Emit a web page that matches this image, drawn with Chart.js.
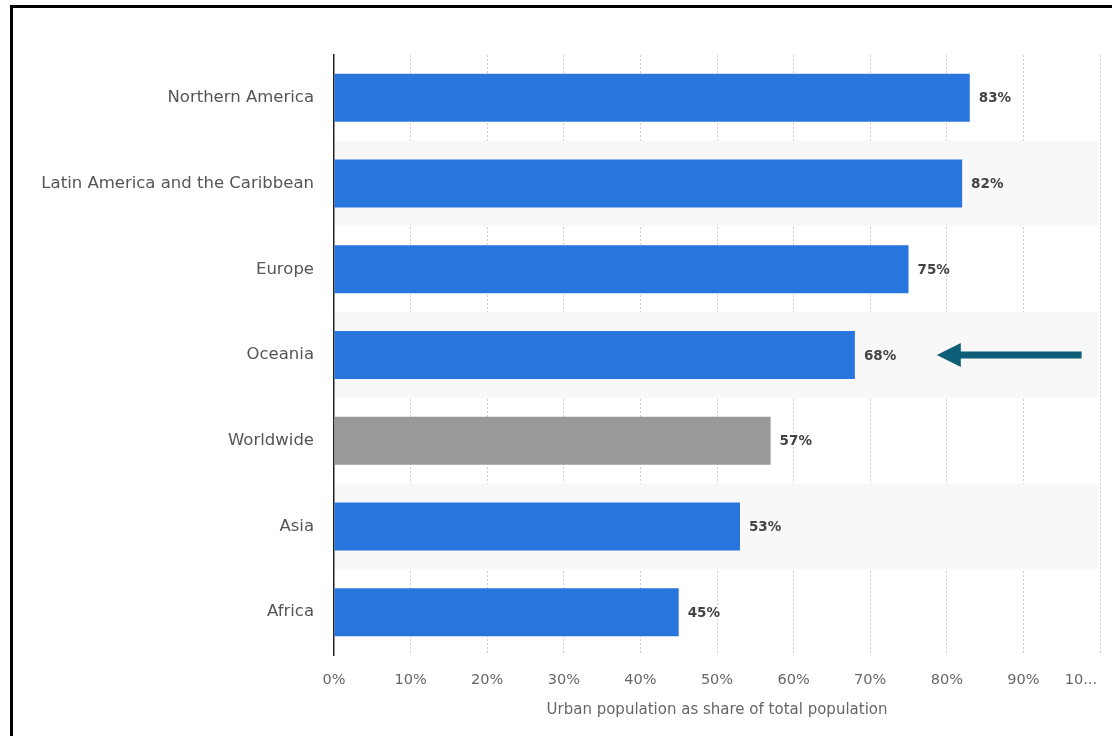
<!DOCTYPE html>
<html>
<head>
<meta charset="utf-8">
<script src="https://cdn.jsdelivr.net/npm/chart.js@4.4.1/dist/chart.umd.min.js"></script>
<style>
    html, body { margin: 0; padding: 0; background: #fff; overflow: hidden; }
    #frame {
        position: absolute; left: 10px; top: 5px; width: 1200px; height: 800px;
        border: 3px solid #000; box-sizing: border-box;
    }
    #wrap { position: absolute; left: 0; top: 0; width: 1130px; height: 736px; }
</style>
</head>
<body>
<div id="frame"></div>
<div id="wrap"><canvas id="urbanChart"></canvas></div>
<script>
// Chart data
const regions = ['Northern America', 'Latin America and the Caribbean', 'Europe', 'Oceania', 'Worldwide', 'Asia', 'Africa'];
const urbanShare = [83, 82, 75, 68, 57, 53, 45];
const barColors = ['#2876dd', '#2876dd', '#2876dd', '#2876dd', '#999999', '#2876dd', '#2876dd'];
const arrowRow = 3;  // Oceania
const cutLabel = '10...';  // the 100% tick is cut off in the original

const FONT = "'DejaVu Sans', Verdana, sans-serif";
Chart.defaults.font.family = FONT;

// Light stripes behind every second row
const stripePlugin = {
    id: 'stripes',
    beforeDatasetsDraw(chart) {
        const { ctx, chartArea, scales: { y } } = chart;
        const half = (y.getPixelForValue(1) - y.getPixelForValue(0)) / 2;
        ctx.save();
        ctx.fillStyle = '#f8f8f8';
        regions.forEach((r, i) => {
            if (i % 2 === 1) {
                const c = y.getPixelForValue(i);
                ctx.fillRect(chartArea.left + 1, c - half, chartArea.right - chartArea.left - 3, half * 2);
            }
        });
        ctx.restore();
    }
};

// Value labels at the end of each bar + annotation arrow
const labelPlugin = {
    id: 'valueLabels',
    afterDatasetsDraw(chart) {
        const { ctx, chartArea, scales: { x, y } } = chart;
        ctx.save();
        ctx.font = "bold 13.5px " + FONT;
        ctx.fillStyle = '#444';
        ctx.textBaseline = 'middle';
        chart.getDatasetMeta(0).data.forEach((bar, i) => {
            ctx.fillText(urbanShare[i] + '%', bar.x + 9, bar.y + 1);
        });

        // cut-off last tick label, right aligned to its grid line
        ctx.font = "14.5px " + FONT;
        ctx.fillStyle = '#666';
        ctx.textAlign = 'right';
        ctx.fillText(cutLabel, x.getPixelForValue(100) - 3, chartArea.bottom + 25);

        // arrow pointing at Oceania
        const ay = y.getPixelForValue(arrowRow);
        const tip = x.getPixelForValue(78.7);
        const base = tip + 24;
        const tail = x.getPixelForValue(97.6);
        ctx.fillStyle = '#0e5e77';
        ctx.fillRect(base - 1, ay - 3.5, tail - base + 1, 7);
        ctx.beginPath();
        ctx.moveTo(tip, ay);
        ctx.lineTo(base, ay - 12);
        ctx.lineTo(base, ay + 12);
        ctx.closePath();
        ctx.fill();
        ctx.restore();
    }
};

const ctx = document.getElementById('urbanChart').getContext('2d');
new Chart(ctx, {
    type: 'bar',
    data: {
        labels: regions,
        datasets: [{
            data: urbanShare,
            backgroundColor: barColors,
            categoryPercentage: 1,
            barPercentage: 0.56
        }]
    },
    options: {
        indexAxis: 'y',
        responsive: true,
        maintainAspectRatio: false,
        animation: false,
        layout: { padding: { top: 55, right: 30, bottom: 0, left: 0 } },
        scales: {
            x: {
                min: 0,
                max: 100,
                ticks: {
                    stepSize: 10,
                    padding: 17,
                    color: '#666',
                    font: { size: 14.5 },
                    maxRotation: 0,
                    autoSkip: false,
                    callback: (v) => v === 100 ? '' : v + '%'
                },
                grid: {
                    color: (c) => c.index === 0 ? 'rgba(0,0,0,0)' : '#cccccc',
                    borderDash: [2, 2],
                    drawTicks: false
                },
                border: { display: false, dash: [2, 2] },
                title: {
                    display: true,
                    text: 'Urban population as share of total population',
                    color: '#666',
                    font: { size: 15 },
                    padding: { top: 4, bottom: 17 }
                },
                afterFit: (scale) => { scale.height = 81; }
            },
            y: {
                ticks: {
                    padding: 20,
                    color: '#555',
                    font: { size: 16.5 }
                },
                grid: { display: false, drawTicks: false },
                border: { display: true, color: '#222', width: 1.5 },
                afterFit: (scale) => { scale.width = 334; }
            }
        },
        plugins: {
            legend: { display: false },
            tooltip: { enabled: false }
        }
    },
    plugins: [stripePlugin, labelPlugin]
});
</script>
</body>
</html>
